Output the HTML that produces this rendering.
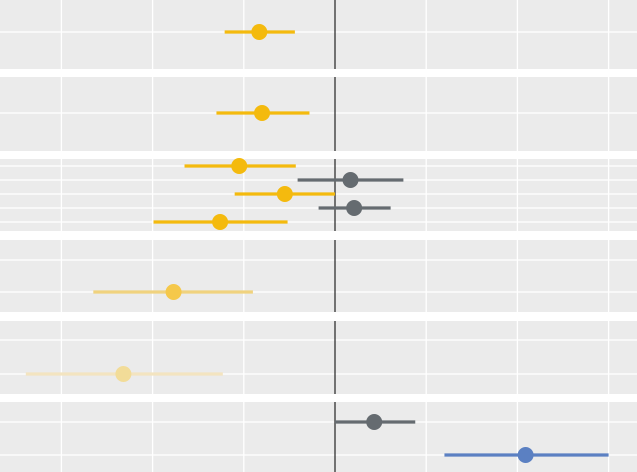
<!DOCTYPE html>
<html><head><meta charset="utf-8"><style>
html,body{margin:0;padding:0;background:#fff;}
svg{display:block;font-family:"Liberation Sans",sans-serif;}
</style></head><body>
<svg id="chart" width="637" height="472" viewBox="0 0 637 472" xmlns="http://www.w3.org/2000/svg"></svg>
<script>
// data
const estimates = [-0.83, -0.80, -1.05, 0.17, -0.55, 0.21, -1.26, -1.77, -2.32, 0.43, 2.09];
const lowerCI   = [-1.21, -1.30, -1.65, -0.41, -1.10, -0.18, -1.99, -2.65, -3.39, 0.00, 1.20];
const upperCI   = [-0.44, -0.28, -0.43, 0.75, 0.00, 0.61, -0.52, -0.90, -1.23, 0.88, 3.00];
const panelOf   = [0, 1, 2, 2, 2, 2, 2, 3, 4, 5, 5];
const rowInPanel= [0, 0, 0, 1, 2, 3, 4, 1, 1, 0, 1];
const groups    = ["neg", "neg", "neg", "ns", "neg", "ns", "neg", "neg2", "neg3", "ns", "pos"];
const xTicks    = [-3, -2, -1, 0, 1, 2, 3];

// layout (not data)
const panels = [
  {top:0, bottom:69, rows:[32]},
  {top:77, bottom:151, rows:[113]},
  {top:159, bottom:231, rows:[166,180,194,208,222]},
  {top:240, bottom:312, rows:[260,292]},
  {top:321, bottom:394, rows:[340,374]},
  {top:402, bottom:472, rows:[422,455]}
];
const styles = {
  neg:{line:"#F4BA0E", pt:"#F4BA0E"},
  neg2:{line:"#F0D27E", pt:"#F5C84A"},
  neg3:{line:"#F3E4C0", pt:"#F2DC98"},
  ns:{line:"#656B70", pt:"#656B70"},
  pos:{line:"#5B80C2", pt:"#5B80C2"}
};
const x = v => 335 + v * 91.2;
const NS = "http://www.w3.org/2000/svg";
const svg = document.getElementById("chart");
function mk(tag, attrs){const e=document.createElementNS(NS,tag);for(const k in attrs)e.setAttribute(k,attrs[k]);svg.appendChild(e);return e;}

panels.forEach((p,i)=>{
  const r = mk("rect",{x:0,y:p.top,width:637,height:p.bottom-p.top,fill:"#EBEBEB"});
  
  
  xTicks.forEach(t=>{
    if(t===0) return;
    const g = mk("line",{x1:x(t),x2:x(t),y1:p.top,y2:p.bottom,stroke:"#fff","stroke-width":1.3});
    
    
  });
  p.rows.forEach(y=>{
    const g = mk("line",{x1:0,x2:637,y1:y,y2:y,stroke:"#fff","stroke-width":1.3});
    
    
  });
  const z = mk("line",{x1:x(0),x2:x(0),y1:p.top,y2:p.bottom,stroke:"#222","stroke-width":1.2});
  
  
});

estimates.forEach((v,i)=>{
  const p = panels[panelOf[i]];
  const y = p.rows[rowInPanel[i]];
  const s = styles[groups[i]];
  const l = mk("line",{x1:x(lowerCI[i]),x2:x(upperCI[i]),y1:y,y2:y,stroke:s.line,"stroke-width":3.2});
  
  
  const c = mk("circle",{cx:x(v),cy:y,r:8,fill:s.pt});
  
  
});
</script>
</body></html>
